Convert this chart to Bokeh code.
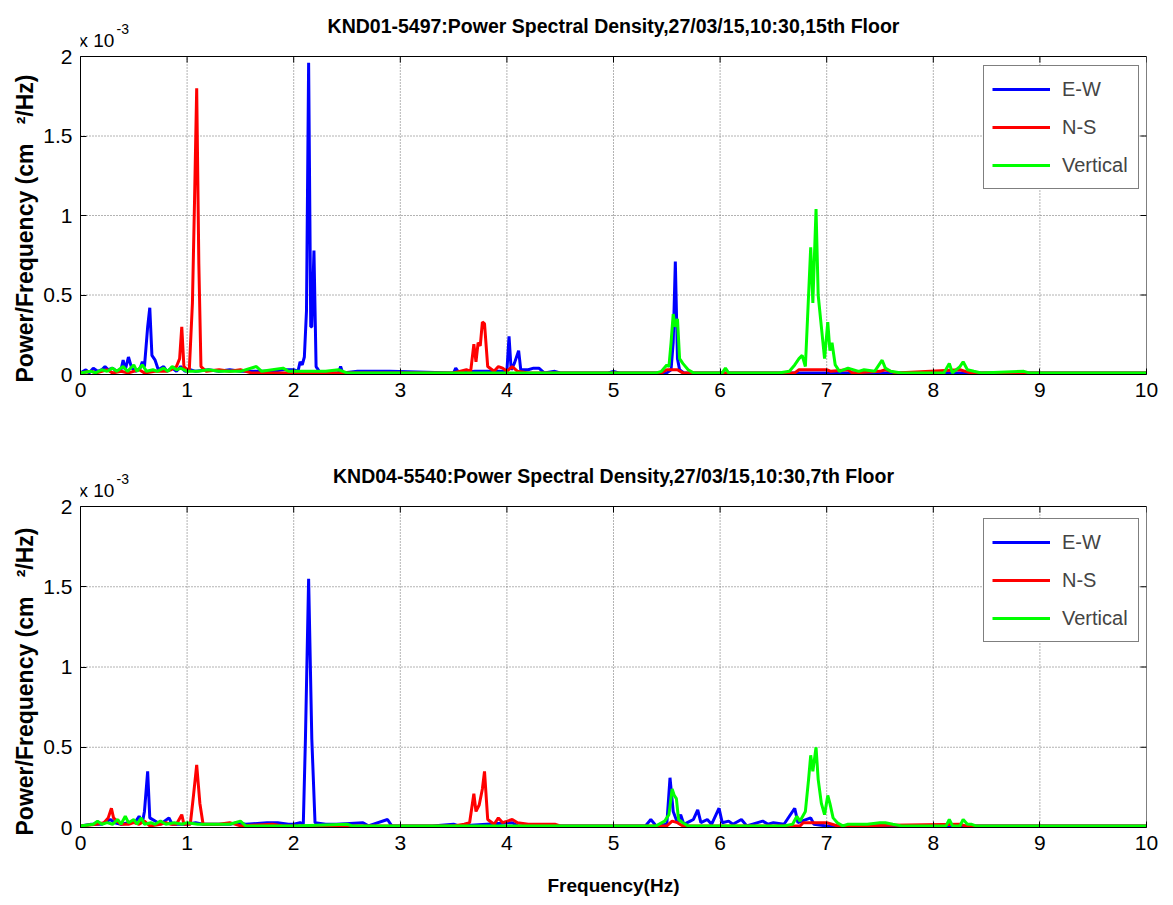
from bokeh.plotting import figure
from bokeh.layouts import column
from bokeh.models import Legend, LegendItem, FixedTicker, Range1d, Title
from bokeh.core.properties import value
from bokeh.embed import file_html
from bokeh.resources import INLINE

# ---------------- data (values in units of 1e-3 cm^2/Hz) ----------------
titles = ["KND01-5497:Power Spectral Density,27/03/15,10:30,15th Floor",
          "KND04-5540:Power Spectral Density,27/03/15,10:30,7th Floor"]
series_names = ["E-W", "N-S", "Vertical"]
x_ticks = [0, 1, 2, 3, 4, 5, 6, 7, 8, 9, 10]
y_ticks = [0, 0.5, 1, 1.5, 2]
y_tick_labels = ["0", "0.5", "1", "1.5", "2"]
scale_base = "x 10"
scale_exp = "-3"
y_label = "Power/Frequency (cm \u00a0\u00a0\u00b2/Hz)"
x_label = "Frequency(Hz)"

top_ew = [(0.00,0.01),(0.05,0.03),(0.08,0.01),(0.12,0.04),(0.16,0.02),(0.20,0.03),(0.23,0.05),(0.26,0.03),
          (0.30,0.04),(0.34,0.02),(0.38,0.03),(0.40,0.09),(0.42,0.03),(0.45,0.11),(0.48,0.04),(0.52,0.02),
          (0.56,0.04),(0.58,0.08),(0.60,0.05),(0.63,0.30),(0.65,0.42),(0.67,0.12),(0.70,0.09),(0.73,0.03),
          (0.78,0.05),(0.81,0.02),(0.86,0.04),(0.90,0.02),(0.94,0.05),(0.98,0.02),(1.03,0.03),(1.08,0.02),
          (1.20,0.03),(1.30,0.02),(1.40,0.03),(1.50,0.02),(1.60,0.02),(1.70,0.02),(1.80,0.02),(1.90,0.03),
          (2.00,0.03),(2.04,0.02),(2.06,0.08),(2.08,0.06),(2.10,0.11),(2.12,0.40),(2.14,1.96),(2.16,0.30),
          (2.17,0.30),(2.19,0.78),(2.21,0.05),(2.24,0.02),(2.30,0.01),(2.42,0.01),(2.44,0.05),(2.46,0.01),
          (2.60,0.02),(2.80,0.02),(2.90,0.02),(3.50,0.01),(3.52,0.04),(3.55,0.01),(3.70,0.02),(4.00,0.02),
          (4.02,0.24),(4.04,0.03),(4.07,0.07),(4.11,0.15),(4.13,0.03),(4.20,0.03),(4.25,0.04),(4.30,0.04),
          (4.35,0.01),(4.45,0.02),(4.50,0.01),(4.95,0.01),(5.00,0.02),(5.05,0.01),(5.50,0.01),(5.54,0.03),
          (5.56,0.20),(5.58,0.71),(5.60,0.10),(5.62,0.03),(5.66,0.01),(10.0,0.01)]
top_ns = [(0.00,0.01),(0.10,0.02),(0.15,0.01),(0.25,0.03),(0.30,0.01),(0.38,0.02),(0.45,0.01),(0.55,0.03),
          (0.60,0.01),(0.70,0.02),(0.80,0.02),(0.85,0.03),(0.90,0.05),(0.93,0.10),(0.95,0.30),(0.97,0.05),
          (1.02,0.02),(1.05,0.45),(1.07,1.10),(1.09,1.80),(1.11,0.70),(1.13,0.05),(1.18,0.02),(1.30,0.03),
          (1.40,0.02),(1.50,0.03),(1.60,0.01),(2.00,0.01),(3.50,0.01),(3.62,0.03),(3.66,0.02),(3.69,0.19),
          (3.71,0.08),(3.73,0.20),(3.75,0.18),(3.77,0.33),(3.79,0.32),(3.82,0.05),(3.88,0.02),(3.92,0.05),
          (3.96,0.04),(4.00,0.02),(4.05,0.05),(4.10,0.02),(4.20,0.01),(5.45,0.01),(5.50,0.03),(5.55,0.03),
          (5.60,0.03),(5.65,0.01),(6.70,0.01),(6.74,0.03),(6.78,0.03),(6.84,0.03),(6.90,0.03),(7.00,0.03),
          (7.04,0.02),(7.20,0.03),(7.24,0.01),(7.50,0.02),(7.55,0.03),(7.60,0.02),(7.65,0.01),(8.25,0.03),
          (8.30,0.02),(8.35,0.01),(10.0,0.01)]
top_vt = [(0.00,0.01),(0.10,0.02),(0.14,0.01),(0.20,0.03),(0.25,0.02),(0.30,0.04),(0.34,0.02),(0.40,0.05),
          (0.44,0.02),(0.50,0.06),(0.53,0.02),(0.58,0.06),(0.62,0.02),(0.68,0.03),(0.72,0.02),(0.78,0.04),
          (0.82,0.02),(0.86,0.05),(0.90,0.03),(0.94,0.04),(1.00,0.02),(1.10,0.02),(1.20,0.03),(1.30,0.02),
          (1.40,0.02),(1.50,0.02),(1.65,0.05),(1.70,0.02),(1.90,0.04),(1.95,0.02),(2.30,0.02),(2.42,0.03),
          (2.50,0.01),(5.40,0.01),(5.45,0.02),(5.50,0.06),(5.52,0.05),(5.54,0.20),(5.56,0.38),(5.58,0.30),
          (5.60,0.35),(5.62,0.10),(5.65,0.07),(5.70,0.03),(5.75,0.01),(6.02,0.01),(6.05,0.04),(6.08,0.01),
          (6.55,0.01),(6.65,0.02),(6.70,0.06),(6.74,0.10),(6.77,0.12),(6.80,0.05),(6.83,0.50),(6.85,0.80),
          (6.87,0.45),(6.90,1.04),(6.92,0.50),(6.95,0.30),(6.98,0.10),(7.01,0.33),(7.03,0.15),(7.05,0.20),
          (7.08,0.06),(7.12,0.02),(7.20,0.04),(7.30,0.02),(7.35,0.03),(7.45,0.02),(7.52,0.09),(7.55,0.04),
          (7.60,0.02),(7.70,0.01),(8.10,0.01),(8.15,0.07),(8.18,0.01),(8.25,0.05),(8.28,0.08),(8.32,0.03),
          (8.38,0.02),(8.45,0.01),(8.85,0.02),(8.90,0.01),(10.0,0.01)]

bot_ew = [(0.00,0.01),(0.10,0.02),(0.20,0.02),(0.25,0.04),(0.28,0.05),(0.32,0.03),(0.38,0.02),(0.45,0.03),
          (0.52,0.04),(0.55,0.07),(0.58,0.03),(0.60,0.10),(0.63,0.35),(0.65,0.06),(0.70,0.04),(0.75,0.02),
          (0.83,0.06),(0.86,0.02),(1.00,0.02),(1.08,0.03),(1.15,0.02),(1.40,0.02),(1.47,0.03),(1.55,0.02),
          (1.75,0.03),(1.85,0.03),(1.95,0.02),(2.00,0.02),(2.06,0.03),(2.09,0.02),(2.11,0.55),(2.14,1.55),
          (2.17,0.55),(2.20,0.03),(2.30,0.02),(2.40,0.02),(2.65,0.03),(2.70,0.01),(2.88,0.05),(2.92,0.01),
          (3.30,0.01),(3.50,0.02),(3.55,0.01),(4.05,0.03),(4.10,0.01),(5.30,0.01),(5.35,0.05),(5.40,0.01),
          (5.50,0.02),(5.53,0.31),(5.56,0.10),(5.60,0.03),(5.63,0.08),(5.66,0.02),(5.72,0.04),(5.75,0.05),
          (5.79,0.11),(5.82,0.03),(5.88,0.05),(5.92,0.02),(5.99,0.12),(6.02,0.03),(6.08,0.04),(6.12,0.02),
          (6.20,0.05),(6.25,0.01),(6.40,0.04),(6.45,0.02),(6.50,0.03),(6.60,0.02),(6.70,0.12),(6.73,0.03),
          (6.85,0.06),(6.88,0.02),(7.00,0.01),(10.0,0.01)]
bot_ns = [(0.00,0.01),(0.15,0.02),(0.22,0.03),(0.26,0.06),(0.29,0.12),(0.31,0.06),(0.34,0.04),(0.38,0.02),
          (0.45,0.02),(0.50,0.03),(0.55,0.02),(0.60,0.04),(0.65,0.01),(0.75,0.02),(0.80,0.03),(0.85,0.02),
          (0.90,0.02),(0.95,0.08),(0.97,0.02),(1.03,0.02),(1.06,0.20),(1.09,0.39),(1.12,0.15),(1.15,0.02),
          (1.30,0.02),(1.40,0.03),(1.50,0.01),(1.80,0.02),(1.90,0.01),(3.50,0.01),(3.60,0.02),(3.65,0.03),
          (3.69,0.21),(3.71,0.10),(3.74,0.14),(3.77,0.24),(3.79,0.35),(3.82,0.05),(3.88,0.02),(3.92,0.06),
          (3.96,0.03),(4.05,0.05),(4.10,0.03),(4.20,0.02),(4.30,0.02),(4.45,0.02),(4.50,0.01),(5.50,0.01),
          (5.55,0.04),(5.60,0.03),(5.65,0.01),(6.75,0.01),(6.78,0.03),(6.84,0.03),(6.92,0.03),(7.00,0.03),
          (7.05,0.02),(7.10,0.01),(8.25,0.02),(8.30,0.01),(10.0,0.01)]
bot_vt = [(0.00,0.01),(0.12,0.02),(0.16,0.04),(0.20,0.02),(0.25,0.03),(0.30,0.02),(0.35,0.05),(0.38,0.02),
          (0.42,0.07),(0.45,0.03),(0.50,0.05),(0.53,0.02),(0.57,0.06),(0.60,0.02),(0.66,0.03),(0.70,0.02),
          (0.75,0.04),(0.80,0.02),(0.88,0.03),(0.95,0.02),(1.00,0.03),(1.10,0.02),(1.20,0.02),(1.40,0.02),
          (1.50,0.04),(1.55,0.01),(2.00,0.01),(2.50,0.02),(2.55,0.01),(5.40,0.01),(5.48,0.04),(5.52,0.08),
          (5.55,0.24),(5.57,0.20),(5.59,0.18),(5.61,0.05),(5.65,0.03),(5.70,0.01),(6.60,0.01),(6.68,0.02),
          (6.72,0.07),(6.75,0.04),(6.80,0.10),(6.83,0.30),(6.85,0.45),(6.87,0.35),(6.90,0.50),(6.92,0.30),
          (6.95,0.15),(6.98,0.08),(7.01,0.20),(7.03,0.15),(7.06,0.06),(7.10,0.03),(7.15,0.01),(7.20,0.02),
          (7.38,0.02),(7.50,0.03),(7.55,0.03),(7.62,0.02),(7.70,0.01),(8.12,0.01),(8.15,0.05),(8.18,0.01),
          (8.25,0.01),(8.28,0.05),(8.32,0.02),(8.36,0.02),(8.40,0.01),(10.0,0.01)]

colors = ["#0000ff", "#ff0000", "#00ff00"]

FONT = "Liberation Sans, Arial, sans-serif"
HEAD = 42  # px of frame kept above the y=2 line for title and scale note
TICK = 6   # inward tick length, px


def make_panel(title, data, top_border, frame_h, bottom_border, xlabel):
    x0, x1 = x_ticks[0], x_ticks[-1]
    y0, y1 = y_ticks[0], y_ticks[-1]
    ppu_y = (frame_h - HEAD) / (y1 - y0)
    ppu_x = 1066 / (x1 - x0)
    p = figure(frame_width=1066, frame_height=frame_h,
               min_border_left=80, min_border_right=19,
               min_border_top=top_border, min_border_bottom=bottom_border,
               x_range=Range1d(x0, x1), y_range=Range1d(y0, y1 + HEAD / ppu_y),
               output_backend="svg", toolbar_location=None)
    p.outline_line_color = None
    p.background_fill_color = "white"
    p.border_fill_color = "white"
    p.grid.visible = False

    for ax in (p.xaxis[0], p.yaxis[0]):
        ax.major_label_text_font = FONT
        ax.major_label_text_font_size = "21px"
        ax.major_label_text_color = "black"
        ax.major_tick_in = TICK
        ax.major_tick_out = 0
        ax.minor_tick_in = 0
        ax.minor_tick_out = 0
        ax.axis_line_color = "black"
        ax.major_tick_line_color = "black"
    p.yaxis.bounds = (y0, y1)
    p.xaxis.ticker = FixedTicker(ticks=x_ticks)
    p.yaxis.ticker = FixedTicker(ticks=y_ticks)
    p.yaxis.major_label_overrides = {t: l for t, l in zip(y_ticks, y_tick_labels)}
    p.xaxis.major_label_standoff = 8
    p.yaxis.major_label_standoff = 8

    ylab = Title(text=y_label, align="left", offset=-8, standoff=6,
                 text_font=FONT, text_font_size="23px", text_font_style="bold", text_color="black")
    p.add_layout(ylab, "left")
    if xlabel:
        p.xaxis.axis_label = xlabel
        p.xaxis.axis_label_text_font = FONT
        p.xaxis.axis_label_text_font_size = "19px"
        p.xaxis.axis_label_text_font_style = "bold"
        p.xaxis.axis_label_text_color = "black"
        p.xaxis.axis_label_standoff = 22

    # dotted grid inside the axes box
    n_x, n_y = len(x_ticks) - 2, len(y_ticks) - 2
    p.segment(x0=x_ticks[1:-1], y0=[y0] * n_x, x1=x_ticks[1:-1], y1=[y1] * n_x,
              line_color="#666666", line_dash="1 2", line_width=1)
    p.segment(x0=[x0] * n_y, y0=y_ticks[1:-1], x1=[x1] * n_y, y1=y_ticks[1:-1],
              line_color="#666666", line_dash="1 2", line_width=1)

    items = []
    for name, pts, c in zip(series_names, data, colors):
        xs = [a for a, b in pts]
        ys = [b for a, b in pts]
        r = p.line(xs, ys, line_color=c, line_width=3)
        items.append(LegendItem(label=name, renderers=[r]))

    # axes box with inward ticks on top and right edges
    p.quad(left=[x0], right=[x1], bottom=[y0], top=[y1], fill_color=None, line_color="black", line_width=1)
    p.segment(x0=x_ticks, y0=[y1] * len(x_ticks), x1=x_ticks, y1=[y1 - TICK / ppu_y] * len(x_ticks),
              line_color="black", line_width=1)
    p.segment(x0=[x1] * len(y_ticks), y0=y_ticks, x1=[x1 - TICK / ppu_x] * len(y_ticks), y1=y_ticks,
              line_color="black", line_width=1)

    # title and scale note above the box
    p.text(x=[(x0 + x1) / 2], y=[y1], text=[title], y_offset=-31, text_align="center", text_baseline="middle",
           text_font=value(FONT), text_font_size="19.5px", text_font_style="bold", text_color="black")
    p.text(x=[x0], y=[y1], text=[scale_base], x_offset=-2, y_offset=-16, text_align="left",
           text_baseline="alphabetic", text_font=value(FONT), text_font_size="19px", text_color="black")
    p.text(x=[x0], y=[y1], text=[scale_exp], x_offset=36, y_offset=-28, text_align="left",
           text_baseline="alphabetic", text_font=value(FONT), text_font_size="14px", text_color="black")

    leg = Legend(items=items, location=(903, 185))
    leg.padding = 8
    leg.spacing = 8
    leg.glyph_width = 58
    leg.glyph_height = 30
    leg.label_height = 30
    leg.label_width = 68
    leg.label_standoff = 12
    leg.label_text_font = FONT
    leg.label_text_font_size = "20px"
    leg.border_line_color = "black"
    leg.border_line_width = 1
    leg.background_fill_alpha = 1
    p.add_layout(leg)
    return p


p1 = make_panel(titles[0], [top_ew, top_ns, top_vt], 14, 360, 86, None)
p2 = make_panel(titles[1], [bot_ew, bot_ns, bot_vt], 4, 363, 70, x_label)

layout = column(p1, p2, spacing=0)
open("out.html", "w").write(file_html(layout, INLINE))
